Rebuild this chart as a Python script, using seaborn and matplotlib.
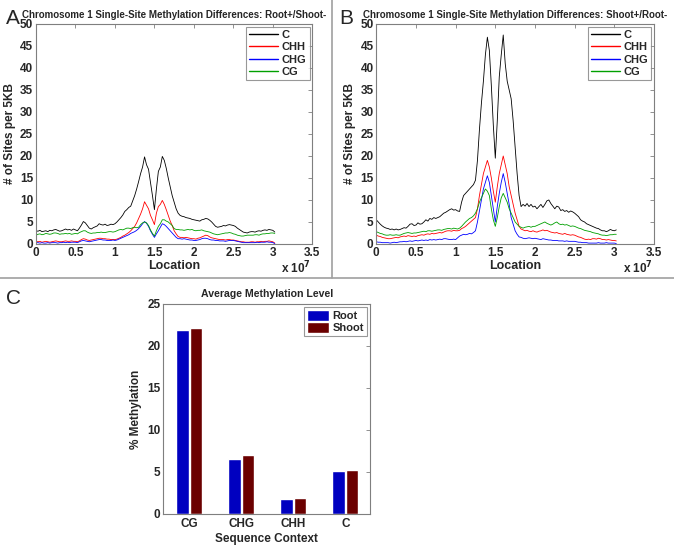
import numpy as np
import pandas as pd
import matplotlib
matplotlib.use('Agg')
import matplotlib.pyplot as plt
import seaborn as sns
from matplotlib.lines import Line2D

# --- 데이터: 5KB 창을 250kb 간격으로 읽은 값 (그림에서 눈으로 읽음) ---
bin_step = 2.5e5
contexts = ['C', 'CHH', 'CHG', 'CG']
line_colors = {'C': '#000000', 'CHH': '#ff0000', 'CHG': '#0000ff', 'CG': '#00a000'}

# Panel A: Root+/Shoot-
a_c = [3.0, 2.9, 3.1, 2.8, 2.9, 3.0, 2.8, 3.1, 3.0, 3.2,
       3.3, 3.1, 2.9, 3.0, 3.2, 3.4, 3.2, 3.3, 3.1, 3.4,
       3.2, 3.0, 3.6, 4.3, 5.1, 4.8, 4.2, 3.6, 3.4, 3.7,
       3.9, 4.1, 4.6, 4.4, 4.3, 4.5, 4.2, 4.3, 4.5, 4.4,
       4.6, 5.0, 5.5, 6.0, 6.6, 7.4, 7.8, 8.3, 8.6, 9.8,
       11.0, 12.5, 14.2, 16.0, 17.5, 19.8, 18.0, 17.0, 14.0, 11.0,
       7.8, 12.5, 16.5, 17.5, 19.9, 19.0, 17.2, 15.0, 13.0, 11.0,
       9.5, 8.0, 7.0, 6.5, 6.3, 6.2, 6.0, 5.9, 5.8, 5.6,
       5.5, 5.4, 5.3, 5.2, 5.5, 5.6, 5.8, 5.7, 5.4, 5.0,
       4.5, 4.0, 3.8, 3.9, 4.0, 4.2, 4.1, 4.3, 4.4, 4.3,
       4.2, 4.0, 3.6, 3.3, 3.0, 2.7, 2.6, 2.5, 2.7, 2.8,
       2.8, 2.7, 2.9, 3.0, 2.9, 3.1, 3.2, 3.1, 3.3, 3.2,
       3.1, 2.7]
a_chh = [0.6, 0.5, 0.6, 0.4, 0.5, 0.6, 0.5, 0.4, 0.5, 0.6,
         0.7, 0.6, 0.5, 0.5, 0.6, 0.7, 0.6, 0.6, 0.7, 0.6,
         0.6, 0.5, 0.7, 1.0, 1.2, 1.1, 0.9, 0.8, 0.9, 1.0,
         1.1, 1.2, 1.3, 1.3, 1.2, 1.2, 1.1, 1.1, 1.0, 1.0,
         1.0, 1.1, 1.3, 1.5, 1.8, 2.0, 2.3, 2.6, 3.0, 3.5,
         4.0, 4.8, 5.8, 6.8, 8.0, 9.6, 8.8, 8.0, 6.5, 5.5,
         4.4, 7.0, 8.5, 9.0, 9.9, 9.0, 7.8, 6.5, 5.2, 4.2,
         3.0, 2.3, 1.7, 1.5, 1.5, 1.4, 1.5, 1.4, 1.3, 1.2,
         1.2, 1.1, 1.3, 1.4, 1.6, 1.8, 2.0, 1.9, 1.6, 1.4,
         1.3, 1.2, 1.1, 1.0, 1.0, 1.0, 0.9, 1.0, 1.0, 0.9,
         0.9, 0.8, 0.7, 0.6, 0.5, 0.5, 0.4, 0.4, 0.4, 0.5,
         0.5, 0.4, 0.5, 0.5, 0.6, 0.5, 0.6, 0.6, 0.7, 0.6,
         0.5, 0.2]
a_chg = [0.3, 0.3, 0.2, 0.3, 0.2, 0.2, 0.3, 0.2, 0.3, 0.3,
         0.3, 0.2, 0.3, 0.3, 0.4, 0.3, 0.4, 0.3, 0.4, 0.4,
         0.4, 0.3, 0.5, 0.7, 0.8, 0.7, 0.6, 0.5, 0.6, 0.7,
         0.8, 0.9, 1.0, 1.0, 0.9, 0.9, 0.8, 0.8, 0.8, 0.9,
         0.8, 0.9, 1.1, 1.3, 1.5, 1.7, 1.9, 2.1, 2.4, 2.6,
         2.8, 3.1, 3.5, 4.0, 4.6, 5.1, 4.7, 4.0, 3.0, 2.2,
         1.5, 2.3, 3.0, 3.8, 4.6, 4.4, 4.0, 3.5, 3.0, 2.5,
         2.0, 1.5, 1.2, 1.2, 1.1, 1.2, 1.1, 1.0, 0.9, 0.9,
         0.8, 0.8, 0.9, 1.0, 1.2, 1.3, 1.3, 1.2, 1.0, 0.9,
         0.9, 0.8, 0.8, 0.7, 0.7, 0.7, 0.6, 0.7, 0.8, 0.8,
         0.8, 0.7, 0.6, 0.5, 0.4, 0.3, 0.3, 0.3, 0.3, 0.3,
         0.3, 0.3, 0.4, 0.3, 0.4, 0.4, 0.4, 0.5, 0.4, 0.4,
         0.3, 0.1]
a_cg = [2.0, 2.2, 2.3, 2.1, 2.2, 2.4, 2.3, 2.2, 2.3, 2.5,
        2.5, 2.4, 2.2, 2.3, 2.3, 2.4, 2.3, 2.4, 2.2, 2.3,
        2.4, 2.3, 2.6, 2.8, 3.0, 3.0, 2.7, 2.5, 2.4, 2.5,
        2.5, 2.6, 2.6, 2.7, 2.6, 2.6, 2.7, 2.8, 2.8, 2.7,
        2.8, 3.0, 3.2, 3.3, 3.2, 3.4, 3.6, 3.6, 3.5, 3.7,
        3.8, 3.7, 3.8, 4.4, 4.8, 5.0, 4.8, 4.2, 3.2, 2.4,
        1.8, 3.0, 4.0, 4.6, 5.5, 5.5, 5.2, 5.0, 4.6, 4.2,
        3.5, 3.3, 3.3, 3.2, 3.2, 3.1, 3.2, 3.3, 3.2, 3.3,
        3.1, 3.0, 3.1, 3.1, 3.2, 3.0, 2.9, 2.8, 2.7, 2.5,
        2.3, 2.2, 2.1, 2.2, 2.3, 2.4, 2.5, 2.5, 2.6, 2.5,
        2.3, 2.2, 2.0, 1.9, 1.8, 1.8, 1.9, 2.0, 2.0, 2.0,
        2.0, 2.1, 2.1, 2.0, 2.2, 2.3, 2.3, 2.4, 2.4, 2.5,
        2.5, 2.4]

# Panel B: Shoot+/Root-
b_c = [5.5, 5.0, 4.5, 4.1, 3.8, 3.6, 3.5, 3.3, 3.4, 3.2,
       3.4, 3.2, 3.3, 3.5, 3.7, 3.6, 4.0, 4.5, 4.6, 4.2,
       4.3, 4.8, 4.5, 4.6, 5.0, 5.5, 5.2, 5.8, 5.6, 6.0,
       5.8, 6.0, 6.2, 6.6, 7.0, 7.2, 7.5, 7.8, 8.0, 7.7,
       7.8, 7.5, 7.4, 9.5, 11.0, 11.5, 12.0, 12.5, 13.0, 13.5,
       14.5, 19.0, 26.0, 32.0, 37.0, 43.0, 47.0, 44.0, 36.0, 27.0,
       19.5, 28.0, 38.0, 43.0, 47.5, 41.0, 37.0, 35.0, 33.0, 28.0,
       22.0, 16.0, 11.0, 8.5, 9.0, 8.6, 9.2, 8.5, 9.0, 8.4,
       8.6, 8.0, 8.5, 9.0, 8.3, 9.0, 9.8, 10.0, 9.2, 8.6,
       8.0, 8.6, 8.4, 7.6, 7.8, 7.4, 7.6, 7.2, 7.5, 7.3,
       7.0, 6.6, 6.2, 5.5, 5.2, 5.0, 4.6, 4.4, 4.2, 4.0,
       3.8, 3.6, 3.5, 3.2, 3.0, 3.0, 2.8, 3.0, 3.3, 3.1,
       3.0, 3.2]
b_chh = [2.0, 1.8, 1.7, 1.5, 1.4, 1.3, 1.2, 1.2, 1.3, 1.4,
         1.5, 1.4, 1.6, 1.7, 1.8, 1.7, 1.9, 1.8, 1.7, 1.8,
         1.7, 1.9, 2.0, 2.1, 2.0, 2.2, 2.3, 2.2, 2.4, 2.3,
         2.4, 2.5, 2.6, 2.5, 2.7, 2.9, 3.0, 3.0, 2.9, 3.1,
         3.0, 3.0, 3.1, 3.5, 3.7, 4.0, 4.4, 4.8, 5.2, 5.6,
         6.0, 8.0, 11.0, 13.5, 16.0, 17.5, 19.0, 17.5, 15.0, 12.0,
         9.5, 13.0, 16.0, 18.0, 20.0, 18.0, 16.0, 13.0, 11.0, 9.0,
         7.0, 5.5, 4.0, 3.4, 3.2, 3.0, 3.1, 2.9, 2.8, 3.0,
         2.8, 2.7, 2.9, 3.0, 3.2, 3.0, 3.1, 2.9, 2.7, 2.6,
         2.5, 2.6, 2.4, 2.3, 2.2, 2.4, 2.2, 2.1, 2.0, 2.1,
         2.0, 1.8, 1.6, 1.5, 1.3, 1.1, 1.0, 1.1, 1.0, 1.2,
         1.2, 1.1, 1.3, 1.2, 1.0, 1.0, 0.9, 1.0, 0.9, 0.8,
         0.8, 0.7]
b_chg = [0.5, 0.4, 0.4, 0.3, 0.3, 0.3, 0.3, 0.2, 0.3, 0.4,
         0.3, 0.4, 0.5, 0.5, 0.6, 0.5, 0.6, 0.7, 0.6, 0.7,
         0.8, 0.7, 0.8, 0.9, 0.8, 0.9, 0.8, 1.0, 0.9, 1.0,
         0.9, 1.0, 1.1, 1.0, 1.2, 1.2, 1.1, 1.0, 1.0, 1.1,
         1.0, 1.4, 1.8, 2.0, 2.2, 2.1, 2.2, 2.4, 2.3, 2.6,
         3.0, 5.0, 7.5, 10.0, 12.5, 14.0, 15.5, 14.0, 11.0, 8.0,
         5.0, 8.5, 11.5, 14.0, 16.0, 14.0, 11.5, 9.0, 6.0, 4.5,
         3.0, 2.2, 1.6, 1.5, 1.3, 1.2, 1.3, 1.4, 1.3, 1.2,
         1.3, 1.2, 1.1, 1.0, 1.2, 1.1, 1.0, 0.9, 0.9, 0.8,
         0.8, 0.8, 0.7, 0.7, 0.7, 0.6, 0.7, 0.6, 0.6, 0.6,
         0.6, 0.5, 0.4, 0.4, 0.3, 0.3, 0.3, 0.2, 0.2, 0.2,
         0.2, 0.2, 0.3, 0.2, 0.2, 0.2, 0.3, 0.2, 0.2, 0.2,
         0.2, 0.1]
b_cg = [2.8, 2.6, 2.4, 2.3, 2.1, 2.0, 2.0, 2.1, 2.0, 2.0,
        2.1, 2.0, 2.0, 2.2, 2.4, 2.5, 2.6, 2.5, 2.4, 2.5,
        2.5, 2.6, 2.7, 2.8, 2.9, 2.8, 3.0, 3.0, 2.9, 3.0,
        3.1, 3.2, 3.2, 3.1, 3.3, 3.4, 3.5, 3.5, 3.4, 3.6,
        3.5, 3.4, 3.6, 4.0, 4.5, 5.0, 5.4, 5.8, 6.0, 6.4,
        7.0, 8.0, 9.5, 10.5, 11.5, 12.5, 12.0, 11.0, 8.0, 5.5,
        4.0, 6.0, 8.5, 10.5, 11.5, 10.5, 9.5, 8.0, 7.0, 6.0,
        5.0, 4.5, 4.0, 3.8, 3.6, 3.8, 3.9, 4.0, 3.8, 4.0,
        4.0, 4.2, 4.4, 4.6, 4.8, 5.0, 4.7, 4.5, 4.3, 4.5,
        4.8, 5.0, 4.6, 4.4, 4.5, 4.3, 4.4, 4.2, 4.0, 4.1,
        4.0, 3.8, 3.6, 3.5, 3.3, 3.1, 3.0, 2.9, 2.8, 2.6,
        2.5, 2.4, 2.3, 2.1, 2.0, 2.0, 1.9, 2.0, 2.1, 2.1,
        2.2, 2.2]

# Panel C: 평균 메틸화 수준
bar_contexts = ['CG', 'CHG', 'CHH', 'C']
root_pct = [21.9, 6.6, 1.8, 5.1]
shoot_pct = [22.1, 7.0, 1.85, 5.25]
tissue_colors = {'Root': '#0000c0', 'Shoot': '#6b0000'}

sns.set_style('white')
plt.rcParams['font.family'] = ['Liberation Sans Narrow', 'Liberation Sans', 'DejaVu Sans']
plt.rcParams['font.weight'] = 'bold'
plt.rcParams['axes.labelweight'] = 'bold'
plt.rcParams['axes.titleweight'] = 'bold'

FRAME = '#7f7f7f'


def to_long(series):
    frames = []
    for name, vals in series.items():
        frames.append(pd.DataFrame({'Location': np.arange(len(vals)) * bin_step,
                                    'Sites': vals, 'Context': name}))
    return pd.concat(frames, ignore_index=True)


def matlab_axes(ax, labelsize=8.5):
    for sp in ax.spines.values():
        sp.set_visible(True)
        sp.set_color(FRAME)
        sp.set_linewidth(0.8)
    ax.tick_params(direction='in', top=True, right=True, length=3, width=0.6,
                   color=FRAME, labelsize=labelsize, pad=2)


def chrom_panel(ax, series, title, ylab_x):
    df = to_long(series)
    sns.lineplot(data=df, x='Location', y='Sites', hue='Context', hue_order=contexts,
                 palette=line_colors, linewidth=0.6, estimator=None, legend=False, ax=ax)
    ax.set_xlim(0, 3.5e7)
    ax.set_ylim(0, 50)
    ax.set_xticks(np.arange(0, 3.51e7, 0.5e7))
    ax.set_xticklabels(['0', '0.5', '1', '1.5', '2', '2.5', '3', '3.5'])
    ax.set_yticks(range(0, 51, 5))
    ax.set_xlabel('Location', fontsize=9, labelpad=1)
    ax.set_ylabel('# of Sites per 5KB', fontsize=8.5)
    ax.yaxis.set_label_coords(ylab_x, 0.5)
    ax.set_title(title, fontsize=7.0, pad=4)
    ax.text(0.995, -0.135, r'x 10$^7$', transform=ax.transAxes, ha='right',
            va='baseline', fontsize=8.5)
    matlab_axes(ax)
    handles = [Line2D([], [], color=line_colors[c], linewidth=1.0) for c in contexts]
    leg = ax.legend(handles, contexts, loc='upper right', frameon=True, fancybox=False,
                    fontsize=8, handlelength=2.6, borderpad=0.3, labelspacing=0.2,
                    handletextpad=0.3, borderaxespad=0.25)
    leg.get_frame().set_edgecolor(FRAME)
    leg.get_frame().set_linewidth(0.8)


fig = plt.figure(figsize=(6.74, 5.49), dpi=100)

ax_a = fig.add_axes([0.0534, 0.5556, 0.410, 0.4007])
chrom_panel(ax_a, {'C': a_c, 'CHH': a_chh, 'CHG': a_chg, 'CG': a_cg},
            'Chromosome 1 Single-Site Methylation Differences: Root+/Shoot-', -0.072)

ax_b = fig.add_axes([0.5583, 0.5556, 0.412, 0.4007])
chrom_panel(ax_b, {'C': b_c, 'CHH': b_chh, 'CHG': b_chg, 'CG': b_cg},
            'Chromosome 1 Single-Site Methylation Differences: Shoot+/Root-', -0.072)

# --- 막대 그래프 ---
ax_c = fig.add_axes([0.2423, 0.0638, 0.307, 0.3825])
bar_df = pd.DataFrame({
    'Context': bar_contexts * 2,
    'Methylation': root_pct + shoot_pct,
    'Tissue': ['Root'] * len(bar_contexts) + ['Shoot'] * len(bar_contexts),
})
sns.barplot(data=bar_df, x='Context', y='Methylation', hue='Tissue', order=bar_contexts,
            palette=tissue_colors, width=0.52, gap=0.08, saturation=1, ax=ax_c)
ax_c.set_xlim(-0.5, 3.48)
ax_c.set_ylim(0, 25)
ax_c.set_yticks(range(0, 26, 5))
ax_c.set_xlabel('Sequence Context', fontsize=8.5, labelpad=2)
ax_c.set_ylabel('% Methylation', fontsize=8.5, labelpad=4)
ax_c.set_title('Average Methylation Level', fontsize=7.6, pad=5)
matlab_axes(ax_c)
ax_c.tick_params(axis='x', length=0, pad=3)
leg = ax_c.legend(loc='upper right', frameon=True, fancybox=False, fontsize=8,
                  handlelength=2.0, handleheight=1.1, borderpad=0.25, labelspacing=0.1,
                  handletextpad=0.3, borderaxespad=0.3)
leg.get_frame().set_edgecolor(FRAME)
leg.get_frame().set_linewidth(0.8)

# 패널 구분선과 라벨
fig.add_artist(Line2D([0.4926, 0.4926], [0.4936, 1.0], transform=fig.transFigure,
                      color='#a0a0a0', linewidth=1.2))
fig.add_artist(Line2D([0.0, 1.0], [0.4936, 0.4936], transform=fig.transFigure,
                      color='#a0a0a0', linewidth=1.2))
fig.text(6 / 674, 1 - 24 / 549, 'A', fontsize=15, fontweight='normal', va='baseline',
         family=['Liberation Sans', 'DejaVu Sans'])
fig.text(339 / 674, 1 - 24 / 549, 'B', fontsize=15, fontweight='normal', va='baseline',
         family=['Liberation Sans', 'DejaVu Sans'])
fig.text(6 / 674, 1 - 304 / 549, 'C', fontsize=15, fontweight='normal', va='baseline',
         family=['Liberation Sans', 'DejaVu Sans'])

fig.savefig('out.png', dpi=100)
